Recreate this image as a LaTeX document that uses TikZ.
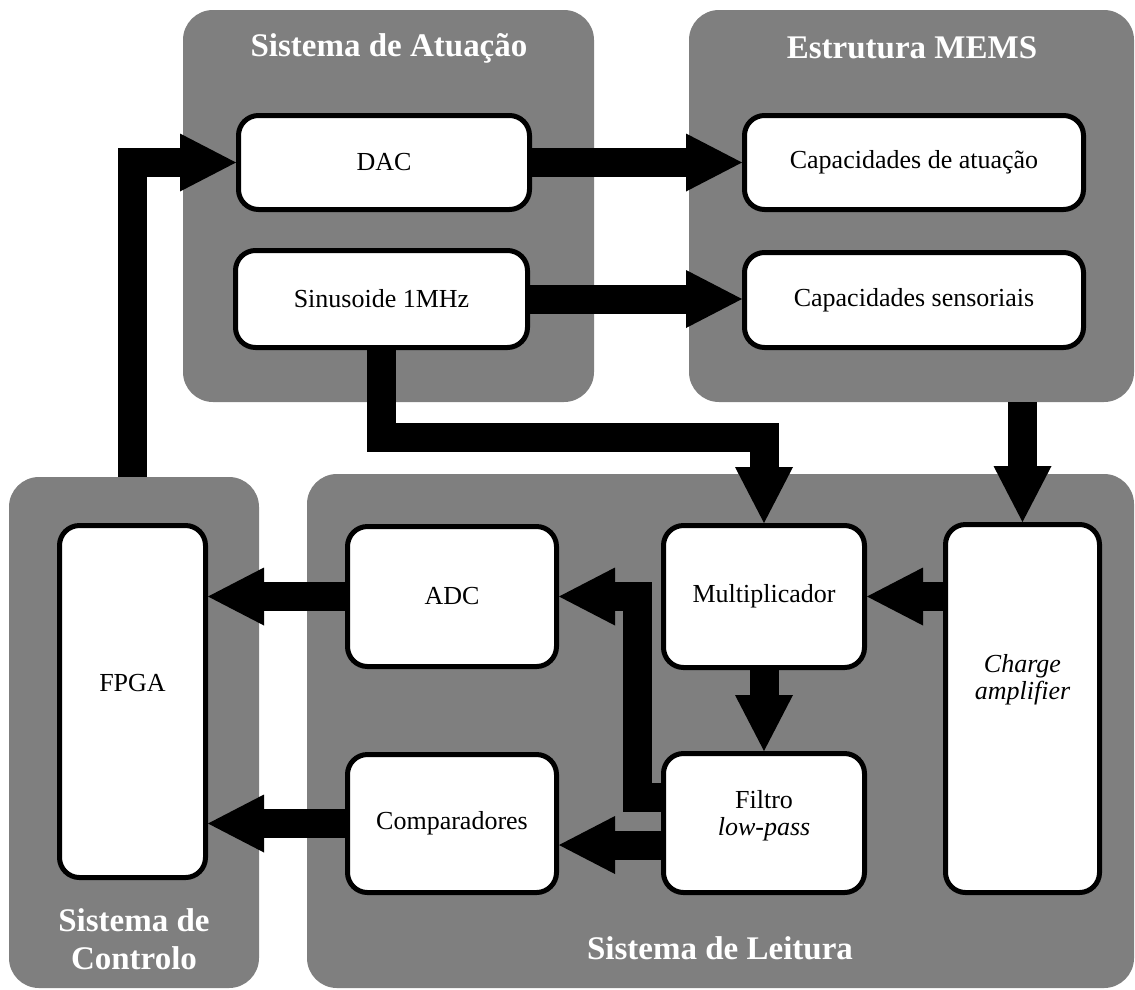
\documentclass[tikz,border=0pt]{standalone}
\usepackage{fontspec}
\setmainfont{Liberation Serif}
\usetikzlibrary{arrows.meta}
\definecolor{panelgray}{RGB}{127,127,127}
\begin{document}
\begin{tikzpicture}[x=1pt,y=-1pt,
  panel/.style={rectangle, rounded corners=30pt, fill=panelgray, inner sep=0pt},
  title/.style={text=white, font=\fontsize{33}{38}\selectfont\bfseries, align=center},
  blk/.style={rectangle, rounded corners=20pt, draw=black, line width=5pt, fill=white, inner sep=0pt,
    font=\fontsize{26}{28}\selectfont, align=center},
  bigarrow/.style={line width=29pt, line join=miter,
    -{Triangle[width=58pt,length=56pt,line width=0pt]}}
]
\useasboundingbox (0,0) rectangle (1135,989);
% panels
\node[panel, minimum width=411pt, minimum height=392pt] (act) at (388.5,206) {};
\node[panel, minimum width=445pt, minimum height=392pt] (mems) at (911.5,206) {};
\node[panel, minimum width=250pt, minimum height=511pt] (ctrl) at (134,732.5) {};
\node[panel, minimum width=827pt, minimum height=514pt] (leit) at (720.5,731) {};
% titles
\node[title] (tact) at (389,48) {Sistema de Atuação};
\node[title] (tmems) at (912,48) {Estrutura MEMS};
\node[title] (tctrl) at (134,939) {Sistema de\\Controlo};
\node[title] (tleit) at (720,948) {Sistema de Leitura};
% blocks
\node[blk, minimum width=291pt, minimum height=94pt] (dac) at (384,162.5) {DAC};
\node[blk, minimum width=292pt, minimum height=97pt] (sin) at (381.5,299) {Sinusoide 1MHz};
\node[blk, minimum width=339pt, minimum height=94pt] (capat) at (914,162.5) {Capacidades de atuação};
\node[blk, minimum width=339pt, minimum height=95pt] (capsens) at (914,300) {Capacidades sensoriais};
\node[blk, minimum width=146pt, minimum height=352pt,
  label={[yshift=18pt, font=\fontsize{26}{28}\selectfont]center:FPGA}] (fpga) at (132.5,701.5) {};
\node[blk, minimum width=209pt, minimum height=140pt] (adc) at (452,596.5) {ADC};
\node[blk, minimum width=201pt, minimum height=142pt] (mult) at (764,596.5) {Multiplicador};
\node[blk, minimum width=154pt, minimum height=368pt,
  label={[yshift=29pt, font=\fontsize{26}{27}\selectfont\itshape, align=center]center:Charge\\amplifier}] (charge) at (1022.5,708.5) {};
\node[blk, minimum width=209pt, minimum height=138pt] (comp) at (452,823.5) {Comparadores};
\node[blk, minimum width=201pt, minimum height=139pt,
  label={[yshift=7pt, font=\fontsize{26}{27}\selectfont, align=center]center:Filtro\\\textit{low-pass}}] (filtro) at (764,823) {};
% bend coordinates
\coordinate (sinbend) at (381.5,437);
\coordinate (filbend) at (637,797);
% connectors
\draw[bigarrow] (ctrl.north -| fpga.center) |- (dac.west);
\draw[bigarrow] (dac.east) -- (capat.west);
\draw[bigarrow] (sin.east) -- (sin.east -| capsens.west);
\draw[bigarrow] (sin.south) -- (sinbend) -| (mult.north);
\draw[bigarrow] (mems.south -| charge.north) -- (charge.north);
\draw[bigarrow] (charge.west |- mult.east) -- (mult.east);
\draw[bigarrow] (mult.south) -- (filtro.north);
\draw[bigarrow] (adc.west) -- (adc.west -| fpga.east);
\draw[bigarrow] (comp.west) -- (comp.west -| fpga.east);
\draw[bigarrow] ([yshift=-22pt]filtro.west) -- ([yshift=-22pt]filtro.west -| comp.east);
\draw[bigarrow] (filtro.west |- filbend) -- (filbend) |- (adc.east);
\end{tikzpicture}
\end{document}
